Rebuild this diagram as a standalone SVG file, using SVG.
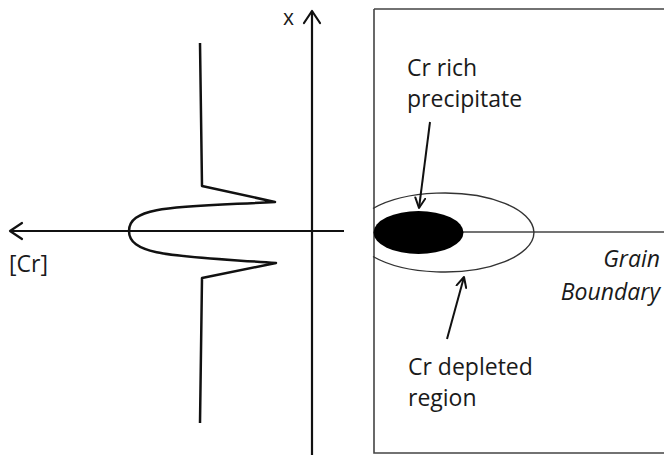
<svg xmlns="http://www.w3.org/2000/svg" width="664" height="455" viewBox="0 0 664 455">
<defs>
<style>
.t{font-family:"Open Sans","Liberation Sans",sans-serif;font-size:23px;fill:#1a1a1a}
.ax{stroke:#111;stroke-width:2.2;fill:none}
.head{stroke:#111;stroke-width:2.2;fill:none;stroke-linecap:round;stroke-linejoin:round}
.thin{stroke:#333;stroke-width:1.4;fill:none}
</style>
<marker id="open" viewBox="0 0 12 12" refX="11" refY="6" markerWidth="12" markerHeight="12" markerUnits="userSpaceOnUse" orient="auto">
<path d="M1,1 L11,6 L1,11" fill="none" stroke="#111" stroke-width="2" stroke-linecap="round" stroke-linejoin="round"/>
</marker>
</defs>
<rect width="664" height="455" fill="#fff"/>
<g id="plot">
<line class="ax" x1="312" y1="455" x2="312" y2="11"/>
<path class="head" d="M304,23 L312,11 L320,23"/>
<line class="ax" x1="344" y1="231" x2="10" y2="231"/>
<path class="head" d="M22,223 L10,231 L22,239"/>
<text class="t" x="283" y="25" style="font-size:21px">x</text>
<text class="t" x="9" y="272">[Cr]</text>
<path d="M200,43 L202,186 L275,202 C180,207 129,205 129,231 C129,257 180,256 276,263 L202,278 L200,423" fill="none" stroke="#111" stroke-width="2.5" stroke-linejoin="round"/>
</g>
<g id="grain">
<path d="M374,9 L664,9 M374,9 L374,453 L664,453" fill="none" stroke="#444" stroke-width="1.6"/>
<line x1="463" y1="232" x2="664" y2="232" stroke="#444" stroke-width="1.5"/>
<path class="thin" d="M373,208.5 A89.7,39.5 0 1 1 373,256.5"/>
<ellipse cx="418.5" cy="232.5" rx="45" ry="21.5" fill="#000"/>
<text class="t" x="660" y="267" text-anchor="end" font-style="italic">Grain</text>
<text class="t" x="660" y="300" text-anchor="end" font-style="italic">Boundary</text>
</g>
<g id="label-precipitate">
<text class="t" x="407" y="76">Cr rich</text>
<text class="t" x="407" y="107">precipitate</text>
</g>
<g id="label-depleted">
<text class="t" x="408" y="375">Cr depleted</text>
<text class="t" x="408" y="406">region</text>
</g>
<g id="connectors">
<line x1="430" y1="122" x2="419" y2="208" stroke="#111" stroke-width="2" marker-end="url(#open)"/>
<line x1="447" y1="339" x2="464" y2="277" stroke="#111" stroke-width="2" marker-end="url(#open)"/>
</g>
</svg>
